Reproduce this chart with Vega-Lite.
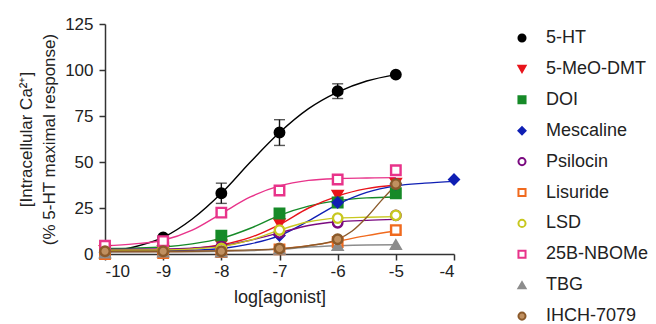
{
  "$schema": "https://vega.github.io/schema/vega-lite/v6.json",
  "width": 349,
  "height": 230,
  "autosize": {"type": "none"},
  "padding": {"left": 105, "top": 24, "right": 202, "bottom": 70},
  "background": "white",
  "datasets": {
    "pts": [
      {"drug": "5-HT", "x": -10, "y": 1}, {"drug": "5-HT", "x": -9, "y": 9}, {"drug": "5-HT", "x": -8, "y": 33}, {"drug": "5-HT", "x": -7, "y": 66}, {"drug": "5-HT", "x": -6, "y": 88.5}, {"drug": "5-HT", "x": -5, "y": 97.5},
      {"drug": "5-MeO-DMT", "x": -10, "y": 2}, {"drug": "5-MeO-DMT", "x": -9, "y": 2}, {"drug": "5-MeO-DMT", "x": -8, "y": 5}, {"drug": "5-MeO-DMT", "x": -7, "y": 16.5}, {"drug": "5-MeO-DMT", "x": -6, "y": 32}, {"drug": "5-MeO-DMT", "x": -5, "y": 38.5},
      {"drug": "DOI", "x": -10, "y": 2.5}, {"drug": "DOI", "x": -9, "y": 3.5}, {"drug": "DOI", "x": -8, "y": 10}, {"drug": "DOI", "x": -7, "y": 22}, {"drug": "DOI", "x": -6, "y": 28}, {"drug": "DOI", "x": -5, "y": 33},
      {"drug": "Mescaline", "x": -10, "y": 1}, {"drug": "Mescaline", "x": -9, "y": 1}, {"drug": "Mescaline", "x": -8, "y": 3}, {"drug": "Mescaline", "x": -7, "y": 10}, {"drug": "Mescaline", "x": -6, "y": 28}, {"drug": "Mescaline", "x": -5, "y": 38}, {"drug": "Mescaline", "x": -4, "y": 40.5},
      {"drug": "Psilocin", "x": -10, "y": 2}, {"drug": "Psilocin", "x": -9, "y": 1.5}, {"drug": "Psilocin", "x": -8, "y": 4}, {"drug": "Psilocin", "x": -7, "y": 11.5}, {"drug": "Psilocin", "x": -6, "y": 17}, {"drug": "Psilocin", "x": -5, "y": 21},
      {"drug": "Lisuride", "x": -10, "y": 0}, {"drug": "Lisuride", "x": -9, "y": 0.5}, {"drug": "Lisuride", "x": -8, "y": 1}, {"drug": "Lisuride", "x": -7, "y": 2.5}, {"drug": "Lisuride", "x": -6, "y": 6.5}, {"drug": "Lisuride", "x": -5, "y": 13},
      {"drug": "LSD", "x": -10, "y": 2}, {"drug": "LSD", "x": -9, "y": 2}, {"drug": "LSD", "x": -8, "y": 3}, {"drug": "LSD", "x": -7, "y": 13}, {"drug": "LSD", "x": -6, "y": 19.5}, {"drug": "LSD", "x": -5, "y": 21},
      {"drug": "25B-NBOMe", "x": -10, "y": 4.5}, {"drug": "25B-NBOMe", "x": -9, "y": 7}, {"drug": "25B-NBOMe", "x": -8, "y": 22.5}, {"drug": "25B-NBOMe", "x": -7, "y": 34.5}, {"drug": "25B-NBOMe", "x": -6, "y": 40.5}, {"drug": "25B-NBOMe", "x": -5, "y": 45.5},
      {"drug": "TBG", "x": -10, "y": 0.5}, {"drug": "TBG", "x": -9, "y": 1}, {"drug": "TBG", "x": -8, "y": 1}, {"drug": "TBG", "x": -7, "y": 2.5}, {"drug": "TBG", "x": -6, "y": 4.5}, {"drug": "TBG", "x": -5, "y": 5},
      {"drug": "IHCH-7079", "x": -10, "y": 1.5}, {"drug": "IHCH-7079", "x": -9, "y": 1.5}, {"drug": "IHCH-7079", "x": -8, "y": 1.5}, {"drug": "IHCH-7079", "x": -7, "y": 3}, {"drug": "IHCH-7079", "x": -6, "y": 8}, {"drug": "IHCH-7079", "x": -5, "y": 38}
    ],
    "curves": [
      {"drug": "5-HT", "x": -10, "y": 1}, {"drug": "5-HT", "x": -9.5, "y": 3.8}, {"drug": "5-HT", "x": -9, "y": 9}, {"drug": "5-HT", "x": -8.5, "y": 19}, {"drug": "5-HT", "x": -8, "y": 33}, {"drug": "5-HT", "x": -7.5, "y": 50}, {"drug": "5-HT", "x": -7, "y": 66}, {"drug": "5-HT", "x": -6.5, "y": 79}, {"drug": "5-HT", "x": -6, "y": 88}, {"drug": "5-HT", "x": -5.5, "y": 94}, {"drug": "5-HT", "x": -5, "y": 97.5},
      {"drug": "25B-NBOMe", "x": -10, "y": 4.5}, {"drug": "25B-NBOMe", "x": -9.5, "y": 5.5}, {"drug": "25B-NBOMe", "x": -9, "y": 7.5}, {"drug": "25B-NBOMe", "x": -8.5, "y": 13}, {"drug": "25B-NBOMe", "x": -8, "y": 22}, {"drug": "25B-NBOMe", "x": -7.5, "y": 31}, {"drug": "25B-NBOMe", "x": -7, "y": 37}, {"drug": "25B-NBOMe", "x": -6.5, "y": 40}, {"drug": "25B-NBOMe", "x": -6, "y": 41}, {"drug": "25B-NBOMe", "x": -5.5, "y": 41.3}, {"drug": "25B-NBOMe", "x": -5, "y": 41.5},
      {"drug": "DOI", "x": -10, "y": 3}, {"drug": "DOI", "x": -9.5, "y": 3.2}, {"drug": "DOI", "x": -9, "y": 3.8}, {"drug": "DOI", "x": -8.5, "y": 5.5}, {"drug": "DOI", "x": -8, "y": 8.5}, {"drug": "DOI", "x": -7.5, "y": 14}, {"drug": "DOI", "x": -7, "y": 21}, {"drug": "DOI", "x": -6.5, "y": 26}, {"drug": "DOI", "x": -6, "y": 29}, {"drug": "DOI", "x": -5.5, "y": 30.5}, {"drug": "DOI", "x": -5, "y": 31},
      {"drug": "5-MeO-DMT", "x": -10, "y": 2}, {"drug": "5-MeO-DMT", "x": -9, "y": 2.3}, {"drug": "5-MeO-DMT", "x": -8.5, "y": 3}, {"drug": "5-MeO-DMT", "x": -8, "y": 5}, {"drug": "5-MeO-DMT", "x": -7.5, "y": 9}, {"drug": "5-MeO-DMT", "x": -7, "y": 16}, {"drug": "5-MeO-DMT", "x": -6.5, "y": 25}, {"drug": "5-MeO-DMT", "x": -6, "y": 31.5}, {"drug": "5-MeO-DMT", "x": -5.5, "y": 35.5}, {"drug": "5-MeO-DMT", "x": -5, "y": 37.5},
      {"drug": "Mescaline", "x": -10, "y": 1.5}, {"drug": "Mescaline", "x": -9, "y": 1.7}, {"drug": "Mescaline", "x": -8.5, "y": 2}, {"drug": "Mescaline", "x": -8, "y": 3}, {"drug": "Mescaline", "x": -7.5, "y": 5.5}, {"drug": "Mescaline", "x": -7, "y": 10}, {"drug": "Mescaline", "x": -6.5, "y": 18}, {"drug": "Mescaline", "x": -6, "y": 27}, {"drug": "Mescaline", "x": -5.5, "y": 33.5}, {"drug": "Mescaline", "x": -5, "y": 37}, {"drug": "Mescaline", "x": -4.5, "y": 38.5}, {"drug": "Mescaline", "x": -4, "y": 39.5},
      {"drug": "Psilocin", "x": -10, "y": 2.5}, {"drug": "Psilocin", "x": -9, "y": 2.7}, {"drug": "Psilocin", "x": -8.5, "y": 3.2}, {"drug": "Psilocin", "x": -8, "y": 4.5}, {"drug": "Psilocin", "x": -7.5, "y": 7.5}, {"drug": "Psilocin", "x": -7, "y": 11.5}, {"drug": "Psilocin", "x": -6.5, "y": 15.5}, {"drug": "Psilocin", "x": -6, "y": 17.5}, {"drug": "Psilocin", "x": -5.5, "y": 18.3}, {"drug": "Psilocin", "x": -5, "y": 18.8},
      {"drug": "LSD", "x": -10, "y": 2}, {"drug": "LSD", "x": -9, "y": 2.2}, {"drug": "LSD", "x": -8.5, "y": 2.8}, {"drug": "LSD", "x": -8, "y": 4}, {"drug": "LSD", "x": -7.5, "y": 7.5}, {"drug": "LSD", "x": -7, "y": 13}, {"drug": "LSD", "x": -6.5, "y": 17.5}, {"drug": "LSD", "x": -6, "y": 19.5}, {"drug": "LSD", "x": -5.5, "y": 20}, {"drug": "LSD", "x": -5, "y": 20.3},
      {"drug": "Lisuride", "x": -10, "y": 1}, {"drug": "Lisuride", "x": -9, "y": 1.2}, {"drug": "Lisuride", "x": -8, "y": 1.6}, {"drug": "Lisuride", "x": -7, "y": 2.8}, {"drug": "Lisuride", "x": -6.5, "y": 4.5}, {"drug": "Lisuride", "x": -6, "y": 7}, {"drug": "Lisuride", "x": -5.5, "y": 10}, {"drug": "Lisuride", "x": -5, "y": 12.5},
      {"drug": "TBG", "x": -10, "y": 1}, {"drug": "TBG", "x": -9, "y": 1.2}, {"drug": "TBG", "x": -8, "y": 1.5}, {"drug": "TBG", "x": -7, "y": 2.5}, {"drug": "TBG", "x": -6.5, "y": 3.8}, {"drug": "TBG", "x": -6, "y": 4.5}, {"drug": "TBG", "x": -5.5, "y": 4.9}, {"drug": "TBG", "x": -5, "y": 5},
      {"drug": "IHCH-7079", "x": -10, "y": 1.5}, {"drug": "IHCH-7079", "x": -9, "y": 1.5}, {"drug": "IHCH-7079", "x": -8, "y": 1.8}, {"drug": "IHCH-7079", "x": -7, "y": 2.8}, {"drug": "IHCH-7079", "x": -6.5, "y": 4.5}, {"drug": "IHCH-7079", "x": -6, "y": 8}, {"drug": "IHCH-7079", "x": -5.75, "y": 12.5}, {"drug": "IHCH-7079", "x": -5.5, "y": 20}, {"drug": "IHCH-7079", "x": -5.25, "y": 29}, {"drug": "IHCH-7079", "x": -5, "y": 37.5}
    ],
    "err": [
      {"x": -8, "lo": 27.5, "hi": 38.5},
      {"x": -7, "lo": 59, "hi": 73},
      {"x": -6, "lo": 84.5, "hi": 92.5}
    ]
  },
  "layer": [
    {
      "data": {"name": "curves"},
      "mark": {"type": "line", "interpolate": "monotone", "strokeWidth": 1.4},
      "encoding": {
        "x": {"field": "x", "type": "quantitative", "title": "log[agonist]"},
        "y": {"field": "y", "type": "quantitative", "title": ["[Intracellular Ca²⁺]", "(% 5-HT maximal response)"]},
        "detail": {"field": "drug", "type": "nominal"},
        "stroke": {
          "field": "drug", "type": "nominal",
          "scale": {
            "domain": ["5-HT", "5-MeO-DMT", "DOI", "Mescaline", "Psilocin", "Lisuride", "LSD", "25B-NBOMe", "TBG", "IHCH-7079"],
            "range": ["#000000", "#e8141b", "#168a28", "#0f1fb4", "#7a0a80", "#f06a1e", "#c8c820", "#e8338a", "#8c8c8c", "#8b5a2b"]
          },
          "legend": {"title": null, "orient": "right", "offset": 51}
        }
      }
    },
    {
      "data": {"name": "err"},
      "mark": {"type": "errorbar", "ticks": {"size": 11, "color": "#111111", "thickness": 1.4}, "color": "#111111", "thickness": 1.4},
      "encoding": {
        "x": {"field": "x", "type": "quantitative", "title": "log[agonist]"},
        "y": {"field": "lo", "type": "quantitative", "title": ["[Intracellular Ca²⁺]", "(% 5-HT maximal response)"]},
        "y2": {"field": "hi"}
      }
    },
    {
      "data": {"name": "pts"},
      "mark": {"type": "point", "size": 90, "strokeWidth": 2.4, "opacity": 1, "fillOpacity": 1},
      "encoding": {
        "x": {
          "field": "x", "type": "quantitative", "title": "log[agonist]",
          "scale": {"domain": [-10, -4], "nice": false, "zero": false},
          "axis": {"values": [-10, -9, -8, -7, -6, -5, -4], "labelExpr": "'' + datum.value", "labelPadding": 3, "titlePadding": 9, "titleFontSize": 18}
        },
        "y": {
          "field": "y", "type": "quantitative", "title": ["[Intracellular Ca²⁺]", "(% 5-HT maximal response)"],
          "scale": {"domain": [0, 125], "nice": false},
          "axis": {"values": [0, 25, 50, 75, 100, 125], "labelPadding": 6, "titlePadding": 6}
        },
        "shape": {
          "field": "drug", "type": "nominal",
          "legend": {"title": null, "orient": "right", "offset": 51},
          "scale": {
            "domain": ["5-HT", "5-MeO-DMT", "DOI", "Mescaline", "Psilocin", "Lisuride", "LSD", "25B-NBOMe", "TBG", "IHCH-7079"],
            "range": ["circle", "triangle-down", "square", "diamond", "circle", "square", "circle", "square", "triangle-up", "circle"]
          }
        },
        "stroke": {
          "field": "drug", "type": "nominal",
          "legend": {"title": null, "orient": "right", "offset": 51}
        },
        "fill": {
          "field": "drug", "type": "nominal",
          "legend": {"title": null, "orient": "right", "offset": 51},
          "scale": {
            "domain": ["5-HT", "5-MeO-DMT", "DOI", "Mescaline", "Psilocin", "Lisuride", "LSD", "25B-NBOMe", "TBG", "IHCH-7079"],
            "range": ["#000000", "#e8141b", "#168a28", "#0f1fb4", "#ffffff", "#ffffff", "#ffffff", "#ffffff", "#8c8c8c", "#c09060"]
          }
        }
      }
    }
  ],
  "config": {
    "view": {"stroke": null},
    "font": "Liberation Sans",
    "axis": {
      "grid": false,
      "domainColor": "#333333",
      "domainWidth": 1.5,
      "tickColor": "#333333",
      "tickWidth": 1.5,
      "tickSize": 6,
      "labelFont": "Liberation Sans",
      "labelFontSize": 17,
      "labelColor": "#222222",
      "titleFont": "Liberation Sans",
      "titleFontSize": 17,
      "titleFontWeight": "normal",
      "titleColor": "#222222"
    },
    "axisY": {"titleLineHeight": 23},
    "legend": {
      "labelFont": "Liberation Sans",
      "labelFontSize": 18,
      "labelColor": "#222222",
      "symbolSize": 50,
      "symbolStrokeWidth": 2,
      "labelOffset": 15,
      "rowPadding": 12.9,
      "padding": 5,
      "symbolType": "circle"
    }
  }
}
